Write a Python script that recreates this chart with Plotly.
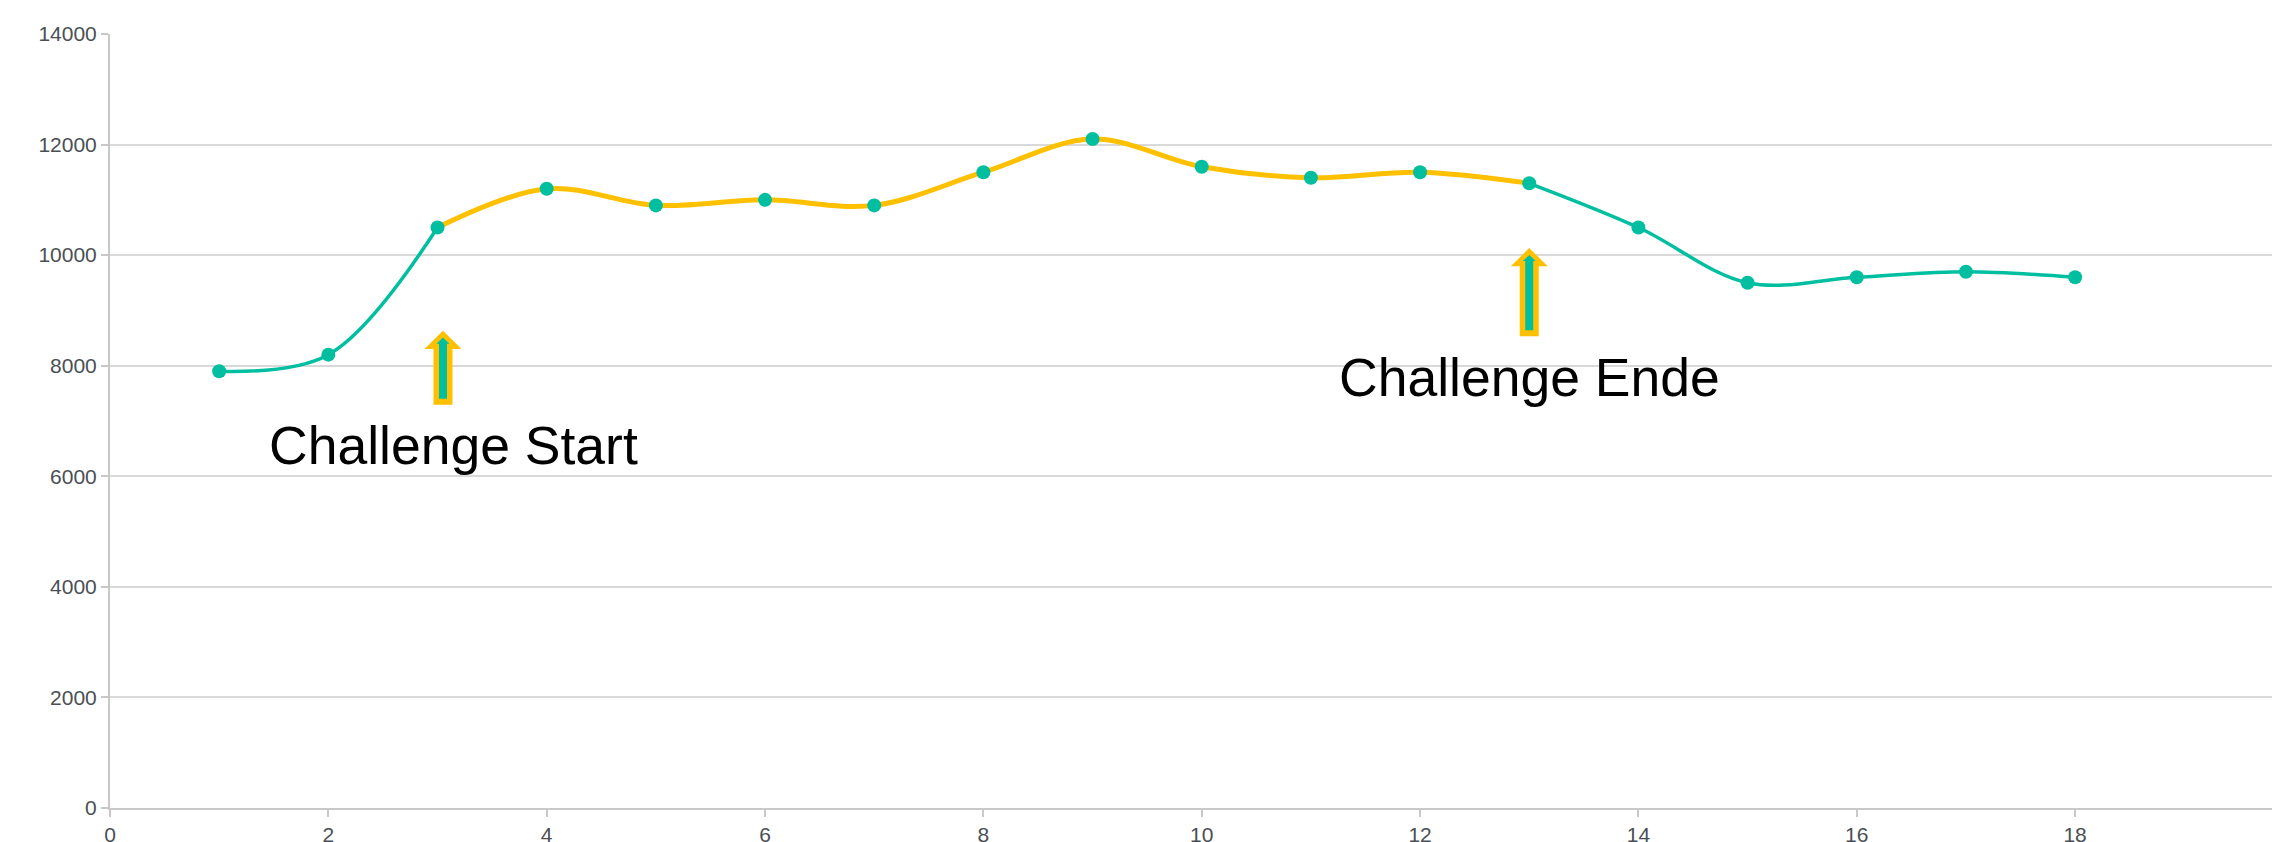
import plotly.graph_objects as go

# Messwerte je Tag
tage = list(range(1, 19))
werte = [7900, 8200, 10500, 11200, 10900, 11000, 10900, 11500, 12100,
         11600, 11400, 11500, 11300, 10500, 9500, 9600, 9700, 9600]

# Challenge-Zeitraum (Tag 3 bis Tag 13)
challenge_start = 3
challenge_ende = 13

# Pfeile: x, Fuss, Spitze
pfeil_x = [3.05, 13.0]
pfeil_fuss = [7292, 8532]
pfeil_spitze = [8634, 10128]
pfeil_text = ["Challenge Start", "Challenge Ende"]
text_x = [3.15, 13.0]
text_y = [6557, 7785]

TEAL = "#00BFA0"
GELB = "#FFC000"
FONT = "Arial, Liberation Sans, sans-serif"


def _pfeil_pfad(fuss, spitze, w, h, kopf):
    """Blockpfeil nach oben: x in Pixeln, y in Datenwerten"""
    basis = spitze - kopf
    return (f"M {-w},{fuss} L {w},{fuss} L {w},{basis} L {h},{basis} "
            f"L 0,{spitze} L {-h},{basis} L {-w},{basis} Z")


fig = go.Figure()

i0 = tage.index(challenge_start)
i1 = tage.index(challenge_ende)

# Abschnitte: vorher (türkis), Challenge (gelb), danach (türkis)
abschnitte = [
    (tage[:i0 + 1], werte[:i0 + 1], TEAL, 3.5),
    (tage[i0:i1 + 1], werte[i0:i1 + 1], GELB, 5),
    (tage[i1:], werte[i1:], TEAL, 3.5),
]
for xs, ys, farbe, breite in abschnitte:
    fig.add_trace(go.Scatter(
        x=xs, y=ys, mode="lines",
        line=dict(color=farbe, width=breite, shape="spline"),
        showlegend=False, hoverinfo="skip",
    ))

# Punkte
fig.add_trace(go.Scatter(
    x=tage, y=werte, mode="markers",
    marker=dict(color=TEAL, size=14),
    showlegend=False,
))

# Pfeile + Beschriftung
for px, fuss, spitze, txt, tx, ty in zip(pfeil_x, pfeil_fuss, pfeil_spitze,
                                         pfeil_text, text_x, text_y):
    fig.add_shape(
        type="path", xref="x", yref="y",
        xsizemode="pixel", xanchor=px,
        path=_pfeil_pfad(fuss, spitze, 9.5, 18.5, 330),
        fillcolor=GELB, line=dict(width=0), layer="above",
    )
    fig.add_shape(
        type="path", xref="x", yref="y",
        xsizemode="pixel", xanchor=px,
        path=_pfeil_pfad(fuss + 110, spitze - 125, 4, 6.5, 110),
        fillcolor=TEAL, line=dict(width=0), layer="above",
    )
    fig.add_annotation(
        x=tx, y=ty, text=txt, showarrow=False,
        font=dict(family=FONT, size=53.5, color="black"),
        xanchor="center", yanchor="middle",
    )

fig.update_xaxes(
    range=[0, 19.95], tickmode="linear", tick0=0, dtick=2,
    showgrid=False, zeroline=False,
    showline=True, linecolor="#c8c8c8", linewidth=2,
    ticks="outside", ticklen=7, tickcolor="#c8c8c8", tickwidth=2,
    tickfont=dict(family=FONT, size=21, color="#4a4f55"),
)
fig.update_yaxes(
    range=[0, 14000], tickmode="linear", tick0=0, dtick=2000,
    tickformat="d",
    showgrid=True, gridcolor="#d9d9d9", gridwidth=1.5,
    zeroline=False,
    showline=True, linecolor="#c8c8c8", linewidth=2,
    ticks="outside", ticklen=7, tickcolor="#c8c8c8", tickwidth=2,
    tickfont=dict(family=FONT, size=21, color="#4a4f55"),
)

fig.update_layout(
    width=2280, height=842,
    margin=dict(l=102, r=0, t=26, b=42, autoexpand=False),
    plot_bgcolor="white", paper_bgcolor="white",
    hovermode="closest",
)

fig.write_html("out.html")
